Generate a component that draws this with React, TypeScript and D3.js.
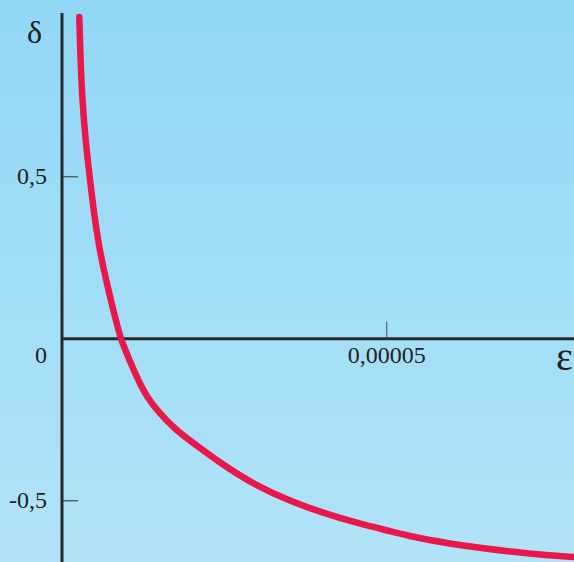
import React from "react";
import * as d3 from "d3";

const epsValues = [2.664e-6, 2.849e-6, 3.126e-6, 3.619e-6, 4.312e-6, 4.928e-6, 5.698e-6, 6.776e-6, 8.008e-6, 9.008e-6, 9.547e-6, 1.058e-5, 1.175e-5, 1.304e-5, 1.498e-5, 1.755e-5, 2.002e-5, 2.479e-5, 3.003e-5, 3.511e-5, 4.019e-5, 4.543e-5, 5.051e-5, 5.405e-5, 5.929e-5, 6.437e-5, 6.945e-5, 7.469e-5, 7.884e-5];
const deltaValues = [0.993, 0.86, 0.737, 0.613, 0.49, 0.388, 0.283, 0.181, 0.079, 0.002, -0.025, -0.075, -0.128, -0.179, -0.229, -0.282, -0.319, -0.39, -0.455, -0.501, -0.538, -0.569, -0.594, -0.612, -0.631, -0.646, -0.658, -0.668, -0.674];
const yTicks = [0.5, -0.5];
const yTickLabels = ["0,5", "-0,5"];
const xTicks = [0.00005];
const xTickLabels = ["0,00005"];
const zeroLabel = "0";
const xAxisLabel = "ε";
const yAxisLabel = "δ";

const W = 574;
const H = 562;

export default function App() {
  const x = d3.scaleLinear().domain([0, 0.00005]).range([62, 386.7]);
  const y = d3.scaleLinear().domain([-0.5, 0.5]).range([500.7, 176.7]);
  const pts = epsValues.map((e, i) => [e, deltaValues[i]] as [number, number]);
  const line = d3
    .line<[number, number]>()
    .x((d) => x(d[0]))
    .y((d) => y(d[1]))
    .curve(d3.curveBasis);
  const font = "'Liberation Serif', 'Times New Roman', serif";
  const x0 = x(0);
  const y0 = y(0);
  return (
    <svg width={W} height={H} style={{ position: "absolute", left: 0, top: 0 }}>
      <defs>
        <linearGradient id="bg" x1="0" y1="0" x2="0" y2="1">
          <stop offset="0" stopColor="#92d7f6" />
          <stop offset="1" stopColor="#b1e3f8" />
        </linearGradient>
      </defs>
      <rect x={0} y={0} width={W} height={H} fill="url(#bg)" />
      {yTicks.map((t, i) => (
        <g key={"y" + i}>
          <line x1={x0} x2={x0 + 16} y1={y(t)} y2={y(t)} stroke="#4d6670" strokeWidth={1.5} />
          <text x={47} y={y(t) + 7} textAnchor="end" fontFamily={font} fontSize={24} fill="#222">
            {yTickLabels[i]}
          </text>
        </g>
      ))}
      {xTicks.map((t, i) => (
        <g key={"x" + i}>
          <line x1={x(t)} x2={x(t)} y1={y0 - 17} y2={y0} stroke="#4d6670" strokeWidth={1.2} />
          <text x={x(t)} y={363} textAnchor="middle" fontFamily={font} fontSize={24} fill="#222">
            {xTickLabels[i]}
          </text>
        </g>
      ))}
      <text x={47} y={363} textAnchor="end" fontFamily={font} fontSize={24} fill="#222">
        {zeroLabel}
      </text>
      <line x1={x0} x2={W} y1={y0} y2={y0} stroke="#262a2b" strokeWidth={3} />
      <line x1={x0} x2={x0} y1={13} y2={H} stroke="#262a2b" strokeWidth={3} />
      <path d={line(pts) || ""} fill="none" stroke="#e8184b" strokeWidth={6.5} strokeLinecap="round" />
      <text x={27} y={43} fontFamily={font} fontSize={32} fill="#222">
        {yAxisLabel}
      </text>
      <text x={556} y={370} fontFamily={font} fontSize={40} fill="#222">
        {xAxisLabel}
      </text>
    </svg>
  );
}
